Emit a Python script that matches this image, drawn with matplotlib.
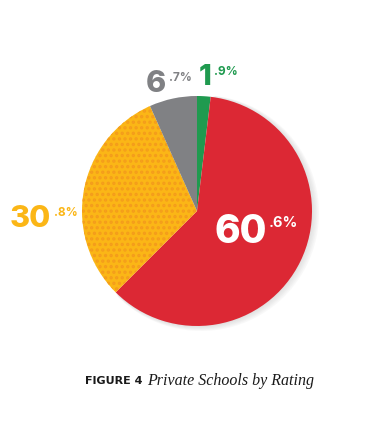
import matplotlib.pyplot as plt
from matplotlib.patches import Wedge

# slices go clockwise from 12 o'clock
labels = ['Rating A', 'Rating B', 'Rating C', 'Rating D']
whole = ['1', '60', '30', '6']
decimal = ['.9%', '.6%', '.8%', '.7%']
shares = [1.9, 60.6, 30.8, 6.7]
colors = ['#1f9a4f', '#dc2834', '#fbb616', '#808184']

W, H = 372, 440
cx, cy, r = 197, H - 211, 115

plt.rcParams['hatch.linewidth'] = 1.6
fig = plt.figure(figsize=(W / 100, H / 100), dpi=100)
ax = fig.add_axes([0, 0, 1, 1])

wedges, _ = ax.pie(shares, colors=colors, startangle=90, counterclock=False,
                   center=(cx, cy), radius=r,
                   wedgeprops=dict(linewidth=0))
wedges[2].set_hatch('...')
wedges[2].set_edgecolor('#f49c1c')
wedges[2].set_linewidth(0)

# soft shadow behind the red slice
red = wedges[1]
for k in range(1, 6):
    sh = Wedge((cx + k * 0.8, cy - k * 0.4), r + k * 0.6, red.theta1, red.theta2,
               color='#b0b0b0', alpha=0.08, lw=0, zorder=0)
    ax.add_patch(sh)

ax.set_xlim(0, W)
ax.set_ylim(0, H)
ax.set_aspect('equal')
ax.axis('off')

# label positions (x, y of big number, text colour, sizes)
lab_pos = [(199, 77, colors[0], 21, 8.5),
           (214, 232, 'white', 28, 10.5),
           (10, 219, colors[2], 22, 8.5),
           (146, 84, colors[3], 22, 8.5)]
font = ['Inter', 'DejaVu Sans']
fig.canvas.draw()
rend = fig.canvas.get_renderer()
for (x, y, c, big, small), w, d in zip(lab_pos, whole, decimal):
    t = ax.text(x, H - y, w, color=c, fontsize=big, fontweight='heavy',
                family=font, ha='left', va='center')
    bb = t.get_window_extent(renderer=rend).transformed(ax.transData.inverted())
    ax.text(bb.x1 + 2.5, bb.y1 - 2, d, color=c, fontsize=small, fontweight='bold',
            family=font, ha='left', va='top')

ax.text(85, H - 381, 'FIGURE 4', fontsize=8, fontweight='bold',
        family='DejaVu Sans', ha='left', va='center', color='#1a1a1a')
ax.text(147, H - 381, 'Private Schools by Rating', fontsize=11.5, style='italic',
        family='Liberation Serif', ha='left', va='center', color='#1a1a1a')

fig.savefig('out.png', dpi=100)
